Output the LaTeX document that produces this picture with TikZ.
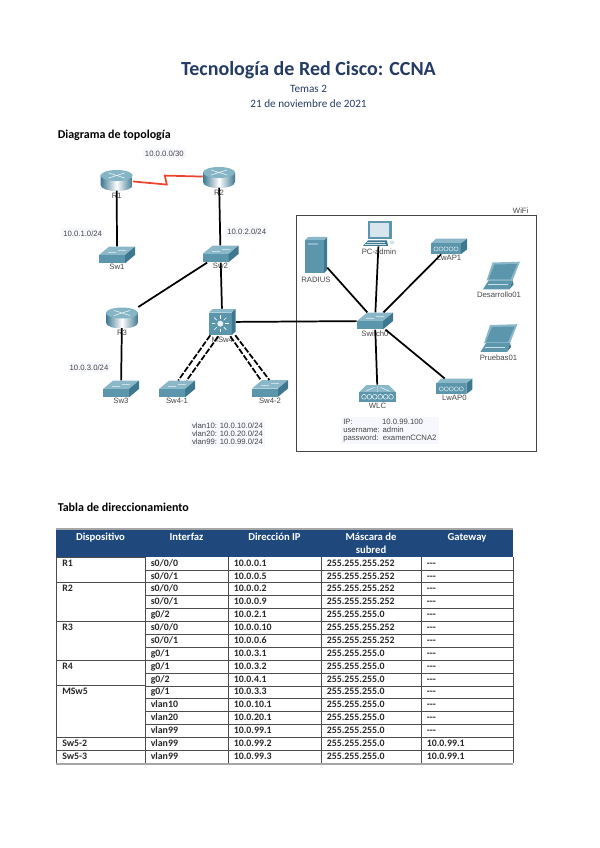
\documentclass[tikz,border=0pt]{standalone}
\usepackage{fontspec}
\usepackage{xcolor}
\usepackage{tikz}
\usetikzlibrary{positioning, calc}
\setmainfont{Carlito}
\newfontfamily\netfont{Liberation Sans}
\definecolor{mytitle}{RGB}{36,60,100}
\definecolor{myhead}{RGB}{31,73,125}
\definecolor{mytop}{RGB}{138,184,200}
\definecolor{myfront}{RGB}{92,150,172}
\definecolor{myside}{RGB}{62,120,144}
\definecolor{mydark}{RGB}{40,90,112}
\definecolor{mypale}{RGB}{246,248,253}
\definecolor{mygrey}{RGB}{70,70,70}
\definecolor{myred}{RGB}{236,66,46}
\newcommand{\nogw}{-{}-{}-}
\tikzset{
  routerbox/.style={inner sep=0pt, minimum width=24pt, minimum height=15.5pt},
  switchbox/.style={inner sep=0pt, minimum width=27pt, minimum height=12.5pt},
  mswbox/.style={inner sep=0pt, minimum width=20pt, minimum height=19.5pt},
  apbox/.style={inner sep=0pt, minimum width=27pt, minimum height=11.5pt},
  wlcbox/.style={inner sep=0pt, minimum width=28pt, minimum height=12.5pt},
  serverbox/.style={inner sep=0pt, minimum width=16.5pt, minimum height=27pt},
  pcbox/.style={inner sep=0pt, minimum width=24pt, minimum height=19pt},
  laptopbox/.style={inner sep=0pt, minimum width=28pt, minimum height=21pt},
  devlabel/.style={inner sep=0pt, text=mygrey, font=\netfont\fontsize{5.8}{7}\selectfont},
  netlabel/.style={inner sep=1.5pt, fill=mypale, text=mygrey, align=left,
    font=\netfont\fontsize{5.8}{6.2}\selectfont},
  link/.style={line width=1.3pt, color=black},
  trunk/.style={line width=1.3pt, color=black, dash pattern=on 4.5pt off 1.3pt},
  heading/.style={inner sep=0pt, anchor=west, font=\bfseries\fontsize{9}{11}\selectfont},
  cell/.style={inner sep=0pt, anchor=west, text height=5.5pt, text depth=1.5pt,
    font=\bfseries\fontsize{7.4}{9}\selectfont, text=black!85},
  headcell/.style={inner sep=0pt, align=center, text=white, font=\bfseries\fontsize{8}{9.7}\selectfont},
  rule/.style={black!70, line width=.6pt},
  router/.pic={
    \shade[left color=myside, right color=myside, middle color=white]
      (-16,-5) -- (-16,5) .. controls (-16,13) and (16,13) .. (16,5) -- (16,-5) -- cycle;
    \fill[mytop!90!myfront] (0,-4.5) ellipse [x radius=16, y radius=5.5];
    \draw[white!75!mytop, line width=.5pt] (-8,-7) -- (8,-2) (-8,-2) -- (8,-7);
  },
  switch/.pic={
    \fill[mytop] (-18,0) -- (-8,-8.3) -- (18,-8.3) -- (8,0) -- cycle;
    \fill[myfront] (-18,0) rectangle (8,8.3);
    \fill[myside] (8,0) -- (18,-8.3) -- (18,0) -- (8,8.3) -- cycle;
    \draw[white!55!mytop, line width=.3pt] (-9,-3) -- (-1,-3) (1,-5) -- (9,-5);
  },
  msw/.pic={
    \fill[mytop] (-13.3,-9.5) -- (-9.5,-13) -- (13.3,-13) -- (9.5,-9.5) -- cycle;
    \fill[myfront] (-13.3,-9.5) rectangle (9.5,13);
    \fill[myside] (9.5,-9.5) -- (13.3,-13) -- (13.3,9.5) -- (9.5,13) -- cycle;
    \foreach \ang in {0,45,...,315}
      \draw[white, line width=.5pt] (-2,1.7) ++(\ang:5) -- ++(\ang:3.5);
    \fill[white!80!mytop] (-2,1.7) circle [radius=3];
  },
  ap/.pic={
    \fill[mytop] (-18,-3) -- (-13,-7.7) -- (18,-7.7) -- (12,-3) -- cycle;
    \fill[myfront] (-18,-3) rectangle (12,7.7);
    \fill[myside] (12,-3) -- (18,-7.7) -- (18,3) -- (12,7.7) -- cycle;
    \foreach \px in {-13,-8,...,7}
      \draw[white!70!mytop, line width=.35pt] (\px,2.5) circle [radius=2.1];
  },
  wlc/.pic={
    \fill[mytop] (-18.5,-1) -- (-11,-8.3) -- (11,-8.3) -- (18.5,-1) -- cycle;
    \fill[myfront] (-18.5,-1) rectangle (18.5,8.3);
    \draw[white, line width=.3pt] (0,-1) -- (0,-7) (-12,-2) -- (-3,-6) (12,-2) -- (3,-6);
    \foreach \px in {-13.5,-8.1,...,14}
      \draw[white, line width=.35pt] (\px,3.5) circle [radius=2.4];
  },
  server/.pic={
    \fill[myfront] (-11,-15) rectangle (8,18);
    \fill[myside] (8,-15) -- (11,-18) -- (11,15) -- (8,18) -- cycle;
    \fill[mytop] (-11,-15) -- (-8,-18) -- (11,-18) -- (8,-15) -- cycle;
    \fill[mytop] (-8,-12) rectangle (2,-10);
  },
  pc/.pic={
    \fill[myfront] (-11,-12.5) rectangle (13,6);
    \fill[white!65!mytop] (-9,-10.5) rectangle (10,3.5);
    \fill[myside] (-16,12.5) -- (-11,7) -- (8,7) -- (9,12.5) -- cycle;
    \draw[white!60!mytop, line width=.3pt] (-12,9) -- (6,9) (-14,11) -- (7,11);
    \fill[white!60!mytop] (13,9) ellipse [x radius=2.5, y radius=1.8];
  },
  laptop/.pic={
    \fill[mytop] (-9,-13) -- (18.5,-13.8) -- (11,5) -- (-15,5) -- cycle;
    \fill[myfront] (-7,-11) -- (15.5,-11.5) -- (9,4) -- (-13,4) -- cycle;
    \fill[myfront] (-18.5,13.8) -- (-13,5) -- (11,5) -- (8,13.8) -- cycle;
    \fill[myside] (11,5) -- (8,13.8) -- (12,9) -- cycle;
    \draw[white!55!mytop, line width=.3pt] (-14,9) -- (6,9);
  }
}
\begin{document}
\begin{tikzpicture}[x=0.75pt, y=-0.75pt]
  \useasboundingbox (0,0) rectangle (599,848);
  % Titles
  \node[inner sep=0pt, text=mytitle, font=\bfseries\fontsize{15}{18}\selectfont] (title) at (308.5,70.5) {Tecnología de Red Cisco: CCNA};
  \node[inner sep=0pt, text=mytitle, font=\fontsize{8.4}{10}\selectfont] (topic) at (308.5,88.5) {Temas 2};
  \node[inner sep=0pt, text=mytitle, font=\fontsize{8.4}{10}\selectfont] (date) at (308.5,103.5) {21 de noviembre de 2021};
  \node[heading] (topohead) at (57.5,135) {Diagrama de topología};
  \node[heading] (tablehead) at (57.5,507) {Tabla de direccionamiento};
  % WiFi area
  \draw[mygrey, line width=.6pt] (296,215) rectangle (536.5,451.7);
  \node[inner sep=1.5pt, fill=white, devlabel] (wifi) at (520.7,211) {WiFi};
  % Routers
  \foreach \nm/\cx/\cy/\lbl in {r1/116.7/180/R1, r2/219/177/R2, r3/122/317.5/R3} {
    \node[routerbox] (\nm) at (\cx,\cy) {};
    \pic at (\nm) {router};
    \node[devlabel, below=1.5pt of \nm] (\nm-name) {\lbl};
  }
  % Switches
  \foreach \nm/\cx/\cy/\lbl in {sw1/117/255/Sw1, sw2/220.5/254/Sw2, sw3/121/389/Sw3,
      sw41/177/389/Sw4-1, sw42/270/388.5/Sw4-2, sw0/375/321/Switch0} {
    \node[switchbox] (\nm) at (\cx,\cy) {};
    \pic at (\nm) {switch};
    \node[devlabel, below=.5pt of \nm] (\nm-name) {\lbl};
  }
  % Multilayer switch
  \node[mswbox] (msw4) at (222.3,322) {};
  \pic at (msw4) {msw};
  \node[devlabel, below=1pt of msw4] (msw4-name) {MSw4};
  % Access points
  \foreach \nm/\cx/\cy/\lbl in {ap1/449/246.4/LwAP1, ap0/454.3/386.4/LwAP0} {
    \node[apbox] (\nm) at (\cx,\cy) {};
    \pic at (\nm) {ap};
    \node[devlabel, below=.5pt of \nm] (\nm-name) {\lbl};
  }
  % Wireless controller, server, PC
  \node[wlcbox] (wlc) at (377.5,393.3) {};
  \pic at (wlc) {wlc};
  \node[devlabel, below=1pt of wlc] (wlc-name) {WLC};
  \node[serverbox] (radius) at (316,255) {};
  \pic at (radius) {server};
  \node[devlabel, below=3pt of radius] (radius-name) {RADIUS};
  \node[pcbox] (pc) at (379,233.4) {};
  \pic at (pc) {pc};
  \node[devlabel, below=1.5pt of pc] (pc-name) {PC-admin};
  % Laptops
  \foreach \nm/\cx/\cy/\ox/\lbl in {dev01/499/275.5/2.5/Desarrollo01, test01/498.5/338/.5/Pruebas01} {
    \node[laptopbox] (\nm) at (\cx,\cy) {};
    \pic at ($(\nm)+(\ox,0)$) {laptop};
    \node[devlabel, below=1.5pt of \nm] (\nm-name) {\lbl};
  }
  % Links
  \draw[link, myred] (r1) -- ($(r1)!.48!(r2)+(1,6)$) -- ($(r1)!.47!(r2)+(0,-3)$) -- (r2);
  \draw[link] (r1) -- (sw1);
  \draw[link] (r2) -- (sw2);
  \draw[link] (sw2) -- (r3);
  \draw[link] (sw2) -- (msw4);
  \draw[link] (r3) -- (sw3);
  \draw[link] (msw4) -- (sw0);
  \draw[link] (sw0) -- (radius);
  \draw[link] (sw0) -- (pc);
  \draw[link] (sw0) -- (ap1);
  \draw[link] (sw0) -- (wlc);
  \draw[link] (sw0) -- (ap0);
  % Trunks
  \draw[trunk] ($(msw4.south)+(-12,0)$) -- ($(sw41.north)+(1.3,0)$);
  \draw[trunk] ($(msw4.south)+(-4,1)$) -- ($(sw41.north)+(9.7,0)$);
  \draw[trunk] ($(msw4.south)+(13,0)$) -- ($(sw42.north)+(-.7,0)$);
  \draw[trunk] ($(msw4.south)+(8,1)$) -- ($(sw42.north)+(-9.3,0)$);
  % Subnets
  \node[netlabel] (net12) at (164.3,153.3) {10.0.0.0/30};
  \node[netlabel] (net1) at (82.7,233.3) {10.0.1.0/24};
  \node[netlabel] (net2) at (246.7,232) {10.0.2.0/24};
  \node[netlabel] (net3) at (89,367.3) {10.0.3.0/24};
  \node[netlabel] (vlans) at (227.5,433.5) {vlan10: 10.0.10.0/24\\vlan20: 10.0.20.0/24\\vlan99: 10.0.99.0/24};
  \node[netlabel, anchor=west] (wlcinfo) at (341,430.5) {IP:\hspace{22pt}10.0.99.100\\username: admin\\password:\ \ examenCCNA2};
  % Table head
  \fill[myhead] (56,529) rectangle (513,557);
  \node[headcell, anchor=base] (hdev) at (100.5,540.5) {Dispositivo};
  \node[headcell, anchor=base] (hifc) at (186.5,540.5) {Interfaz};
  \node[headcell, anchor=base] (hip) at (274.5,540.5) {Dirección IP};
  \node[headcell] (hmask) at (371,543) {Máscara de\\subred};
  \node[headcell, anchor=base] (hgw) at (467,540.5) {Gateway};
  % Table rows
  \foreach \dev/\ifc/\ip/\mask/\gw [count=\i from 0] in {
      R1/{s0/0/0}/10.0.0.1/255.255.255.252/\nogw,
      /{s0/0/1}/10.0.0.5/255.255.255.252/\nogw,
      R2/{s0/0/0}/10.0.0.2/255.255.255.252/\nogw,
      /{s0/0/1}/10.0.0.9/255.255.255.252/\nogw,
      /{g0/2}/10.0.2.1/255.255.255.0/\nogw,
      R3/{s0/0/0}/10.0.0.10/255.255.255.252/\nogw,
      /{s0/0/1}/10.0.0.6/255.255.255.252/\nogw,
      /{g0/1}/10.0.3.1/255.255.255.0/\nogw,
      R4/{g0/1}/10.0.3.2/255.255.255.0/\nogw,
      /{g0/2}/10.0.4.1/255.255.255.0/\nogw,
      MSw5/{g0/1}/10.0.3.3/255.255.255.0/\nogw,
      /vlan10/10.0.10.1/255.255.255.0/\nogw,
      /vlan20/10.0.20.1/255.255.255.0/\nogw,
      /vlan99/10.0.99.1/255.255.255.0/\nogw,
      Sw5-2/vlan99/10.0.99.2/255.255.255.0/10.0.99.1,
      Sw5-3/vlan99/10.0.99.3/255.255.255.0/10.0.99.1} {
    \node[cell] (dev\i) at (62,{563.5+12.88*\i}) {\dev};
    \node[cell] (ifc\i) at (150.5,{563.5+12.88*\i}) {\ifc};
    \node[cell] (ip\i) at (233.5,{563.5+12.88*\i}) {\ip};
    \node[cell] (mask\i) at (326.5,{563.5+12.88*\i}) {\mask};
    \node[cell] (gw\i) at (426.5,{563.5+12.88*\i}) {\gw};
    \draw[rule] (145,{570+12.88*\i}) -- (513,{570+12.88*\i});
  }
  % Table rules
  \foreach \r in {0,2,5,8,10,14,15,16}
    \draw[rule] (56,{557+12.88*\r}) -- (145,{557+12.88*\r});
  \foreach \cx in {56,145,228,321,421,513}
    \draw[rule] (\cx,557) -- (\cx,763);
  \draw[black!35, line width=.8pt] (56,529) -- (513,529) (56,764) -- (513,764);
\end{tikzpicture}
\end{document}
